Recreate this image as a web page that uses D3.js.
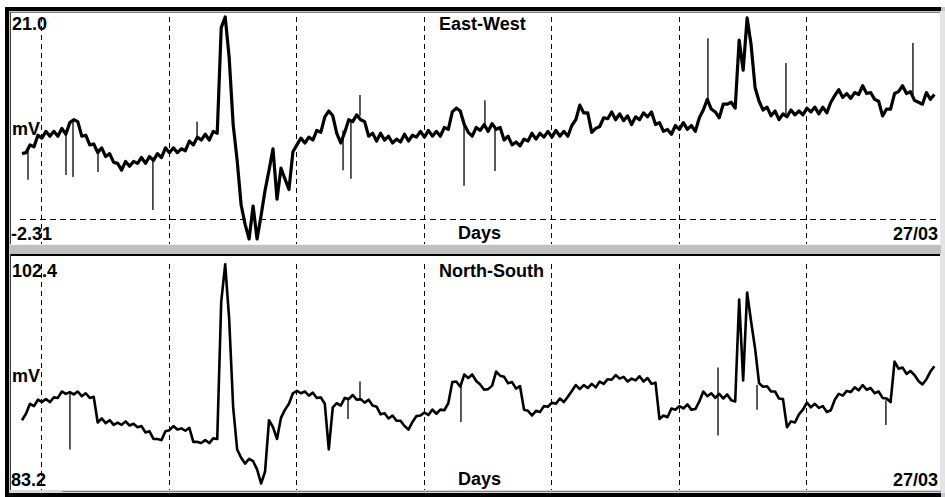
<!DOCTYPE html>
<html>
<head>
<meta charset="utf-8">
<script src="https://cdnjs.cloudflare.com/ajax/libs/d3/7.8.5/d3.min.js"></script>
<style>
  body { margin: 0; background: #fff; }
  svg { display: block; }
</style>
</head>
<body>
<script>
// time axis: days before 27/03, one sample every 1/32 day
const startDay = -7.15;
const sampleStep = 1 / 32;
const dayTicks = [-7, -6, -5, -4, -3, -2, -1];
const endLabel = "27/03";

// East-West channel (mV)
const ewRange = [-2.31, 21.0];
const ewValues = [
  6.7, 6.8, 7.6, 7.4, 8.6, 8.3, 9.0, 8.5, 9.0, 8.5,
  9.3, 8.7, 9.9, 10.2, 10.0, 8.5, 8.6, 7.6, 7.7, 6.8,
  7.3, 6.4, 6.7, 5.8, 5.7, 5.0, 5.9, 5.4, 5.9, 5.7,
  6.3, 5.7, 6.4, 6.0, 6.7, 6.3, 7.3, 6.8, 7.3, 6.8,
  7.2, 7.0, 8.0, 7.6, 8.4, 8.1, 8.7, 8.1, 9.0, 8.8,
  19.7, 20.8, 16.6, 9.7, 6.0, 1.4, -0.6, -2.1, 1.3, -2.1,
  0.3, 2.9, 5.0, 7.2, 2.0, 5.2, 4.1, 3.0, 6.9, 7.6,
  8.3, 7.8, 8.4, 8.1, 9.1, 8.9, 10.5, 11.1, 10.6, 8.8,
  7.8, 8.9, 10.2, 10.0, 10.7, 10.2, 10.0, 8.5, 8.8, 8.0,
  8.8, 8.1, 8.5, 7.8, 8.2, 7.9, 8.7, 8.0, 8.6, 8.4,
  9.0, 8.4, 9.1, 8.5, 9.0, 8.5, 9.4, 9.2, 11.0, 11.4,
  11.1, 9.7, 8.9, 8.5, 9.4, 9.1, 9.7, 9.0, 9.8, 9.2,
  9.4, 8.1, 8.5, 7.6, 7.9, 7.5, 8.2, 8.0, 8.8, 8.2,
  8.8, 8.4, 9.0, 8.4, 9.1, 8.5, 9.0, 8.5, 9.6, 10.2,
  11.7, 10.9, 10.9, 8.9, 9.3, 9.5, 10.4, 10.3, 11.0, 10.2,
  10.8, 10.1, 10.6, 9.7, 10.5, 10.2, 10.9, 10.5, 11.0, 9.7,
  9.9, 9.0, 9.2, 8.7, 9.6, 9.2, 9.9, 9.2, 9.6, 9.0,
  10.4, 11.2, 12.3, 11.3, 11.0, 10.4, 11.8, 11.8, 12.0, 11.4,
  18.4, 15.3, 20.7, 17.9, 13.5, 12.1, 11.2, 11.5, 10.6, 11.1,
  10.2, 10.8, 10.5, 11.2, 10.7, 11.1, 10.7, 11.4, 11.0, 11.5,
  10.8, 11.5, 10.9, 12.0, 12.7, 13.3, 12.5, 12.9, 12.4, 13.0,
  12.8, 13.7, 12.9, 13.0, 12.3, 12.1, 10.6, 11.3, 11.3, 12.9,
  13.1, 13.7, 12.9, 13.1, 12.2, 12.0, 11.8, 13.0, 12.3, 12.8
];
// single-sample glitches: [day, from, to]
const ewSpikes = [
  [-7.103, 7.1, 4.0], [-6.805, 9.0, 4.5], [-6.750, 10.0, 4.3],
  [-6.554, 7.2, 4.8], [-6.123, 6.3, 0.9], [-5.777, 8.2, 10.0],
  [-4.632, 9.1, 5.0], [-4.570, 10.2, 4.1], [-4.499, 10.6, 12.75],
  [-3.683, 10.0, 3.4], [-3.519, 9.35, 12.2], [-3.440, 9.5, 4.9],
  [-1.770, 12.0, 18.6], [-1.158, 10.8, 16.05], [-0.162, 12.5, 18.1]
];

// North-South channel (mV)
const nsRange = [83.2, 102.4];
const nsValues = [
  88.9, 89.45, 90.3, 90.1, 90.65, 90.45, 90.7, 90.45, 90.85, 90.8,
  91.35, 91.15, 91.3, 91.1, 91.35, 90.95, 91.2, 90.8, 90.9, 88.7,
  89.05, 88.65, 88.9, 88.5, 88.7, 88.5, 88.8, 88.45, 88.6, 88.3,
  88.4, 87.85, 87.95, 87.3, 87.3, 87.2, 87.95, 88.05, 88.4, 88.1,
  88.2, 88.0, 88.25, 87.05, 87.05, 86.95, 87.2, 86.95, 87.35, 87.3,
  99.0, 102.2, 97.5, 90.0, 86.4, 85.7, 85.2, 85.6, 85.4, 84.7,
  83.5, 84.5, 88.9, 88.3, 87.3, 89.1, 89.8, 90.3, 91.2, 91.4,
  91.2, 91.35, 91.0, 91.25, 90.8, 90.85, 90.3, 86.4, 90.0, 90.35,
  90.15, 90.8, 90.7, 91.05, 90.65, 90.7, 90.4, 90.65, 90.15, 90.05,
  89.4, 89.5, 89.05, 89.3, 88.85, 88.85, 88.4, 88.1, 88.75, 89.25,
  89.3, 89.55, 89.35, 89.8, 89.45, 89.8, 89.75, 90.35, 92.15, 92.2,
  91.75, 92.8, 92.5, 92.8, 92.25, 91.95, 91.5, 91.55, 91.85, 93.05,
  92.7, 92.6, 92.05, 92.15, 91.6, 91.8, 89.8, 89.7, 89.3, 89.7,
  89.6, 90.1, 90.05, 90.4, 90.3, 90.75, 90.45, 90.9, 91.4, 91.9,
  91.55, 91.9, 91.65, 92.0, 91.7, 92.2, 92.0, 92.4, 92.35, 92.75,
  92.45, 92.6, 92.2, 92.45, 92.3, 92.65, 92.2, 92.5, 92.0, 92.1,
  89.0, 89.3, 89.15, 89.9, 89.8, 90.1, 89.9, 90.25, 89.8, 89.85,
  90.5, 91.35, 90.95, 91.2, 90.8, 91.15, 90.75, 91.1, 90.6, 90.5,
  99.2, 92.3, 99.8, 97.3, 95.0, 92.05, 91.75, 91.8, 91.35, 91.35,
  90.75, 90.7, 88.3, 88.8, 88.7, 89.4, 89.8, 90.4, 90.0, 90.3,
  89.95, 90.1, 89.6, 89.75, 90.65, 91.15, 91.0, 91.4, 91.3, 91.7,
  91.45, 91.9, 91.5, 91.65, 91.2, 91.35, 90.8, 90.75, 90.45, 93.9,
  93.3, 93.4, 92.85, 93.1, 92.75, 92.25, 91.95, 92.4, 93.05, 93.5
];
const nsSpikes = [
  [-6.774, 91.2, 86.4], [-4.593, 90.8, 89.0], [-4.499, 90.6, 92.2],
  [-3.707, 91.9, 88.75], [-1.691, 93.4, 87.6], [-1.385, 91.9, 89.8],
  [-0.374, 90.6, 88.5]
];

const W = 945, H = 497;
const font = "'Liberation Sans', Arial, sans-serif";

const svg = d3.select("body").append("svg")
  .attr("width", W)
  .attr("height", H);

svg.append("rect").attr("width", W).attr("height", H).attr("fill", "#fff");

// window frame, sunken 3d look
svg.append("rect").attr("x", 5).attr("y", 7).attr("width", 940).attr("height", 490).attr("fill", "#c8c8c8");
svg.append("rect").attr("x", 940).attr("y", 11).attr("width", 5).attr("height", 482).attr("fill", "#e4e4e4");
svg.append("rect").attr("x", 5).attr("y", 7).attr("width", 936).attr("height", 4).attr("fill", "#000");
svg.append("rect").attr("x", 5).attr("y", 7).attr("width", 4).attr("height", 490).attr("fill", "#000");
svg.append("rect").attr("x", 5).attr("y", 493).attr("width", 936).attr("height", 4).attr("fill", "#000");

const x = d3.scaleLinear().domain([startDay, 0]).range([22, 933.6]);

const panels = [
  { title: "East-West", range: ewRange, values: ewValues, spikes: ewSpikes,
    top: 12, bottom: 244, plotTop: 15, plotBottom: 241, edge: "#808080", pen: 3.2,
    topLabel: "21.0", bottomLabel: "-2.31" },
  { title: "North-South", range: nsRange, values: nsValues, spikes: nsSpikes,
    top: 254, bottom: 490, plotTop: 262, plotBottom: 487, edge: "#000", pen: 2.6,
    topLabel: "102.4", bottomLabel: "83.2" }
];

panels.forEach(p => {
  const g = svg.append("g");
  const edgeW = p.edge === "#000" ? 2 : 1;

  g.append("rect")
    .attr("x", 11).attr("y", p.top)
    .attr("width", 929).attr("height", p.bottom - p.top)
    .attr("fill", "#fff");
  // dark top and left edges
  g.append("rect").attr("x", 10).attr("y", p.top).attr("width", 930).attr("height", edgeW).attr("fill", p.edge);
  g.append("rect").attr("x", 10).attr("y", p.top).attr("width", 1).attr("height", p.bottom - p.top).attr("fill", "#404040");

  const y = d3.scaleLinear().domain(p.range).range([p.plotBottom, p.plotTop]);

  // day separators
  g.selectAll(".day")
    .data(dayTicks)
    .enter().append("line")
    .attr("x1", d => Math.round(x(d)) + 0.5)
    .attr("x2", d => Math.round(x(d)) + 0.5)
    .attr("y1", p.plotTop + 2)
    .attr("y2", p.bottom)
    .attr("stroke", "#000")
    .attr("stroke-width", 1)
    .attr("stroke-dasharray", "5,4");

  // zero line when it falls inside the range
  if (p.range[0] < 0 && p.range[1] > 0) {
    g.append("line")
      .attr("x1", 20).attr("x2", 936)
      .attr("y1", Math.round(y(0)) + 0.5).attr("y2", Math.round(y(0)) + 0.5)
      .attr("stroke", "#000")
      .attr("stroke-dasharray", "6,4");
  }

  const line = d3.line()
    .x((d, i) => x(startDay + i * sampleStep))
    .y(d => y(d));

  g.append("path")
    .datum(p.values)
    .attr("d", line)
    .attr("fill", "none")
    .attr("stroke", "#000")
    .attr("stroke-width", p.pen)
    .attr("stroke-linejoin", "round");

  g.selectAll(".spike")
    .data(p.spikes)
    .enter().append("line")
    .attr("x1", d => x(d[0]))
    .attr("x2", d => x(d[0]))
    .attr("y1", d => y(d[1]))
    .attr("y2", d => y(d[2]))
    .attr("stroke", "#000")
    .attr("stroke-width", 1.3);

  const text = (s, tx, ty, anchor) => g.append("text")
    .attr("x", tx).attr("y", ty)
    .attr("text-anchor", anchor || "start")
    .attr("font-family", font)
    .attr("font-size", 18)
    .attr("font-weight", "bold")
    .attr("fill", "#000")
    .text(s);

  const mid = (p.plotTop + p.plotBottom) / 2;
  text(p.topLabel, 12, p.plotTop + 15);
  text("mV", 12, mid + 7);
  text(p.bottomLabel, 11, p.plotBottom - 1);
  text(p.title, 439, p.plotTop + 15);
  text("Days", 458, p.plotBottom - 2);
  text(endLabel, 938, p.plotBottom - 1, "end");
});

// separator between the panels
svg.append("rect").attr("x", 10).attr("y", 244).attr("width", 931).attr("height", 1).attr("fill", "#f0f0f0");
svg.append("rect").attr("x", 10).attr("y", 245).attr("width", 931).attr("height", 9).attr("fill", "#c0c0c0");
// bottom strip
svg.append("rect").attr("x", 10).attr("y", 490).attr("width", 931).attr("height", 3).attr("fill", "#d8d8d8");
svg.append("rect").attr("x", 62).attr("y", 491).attr("width", 879).attr("height", 1).attr("fill", "#808080");
</script>
</body>
</html>
